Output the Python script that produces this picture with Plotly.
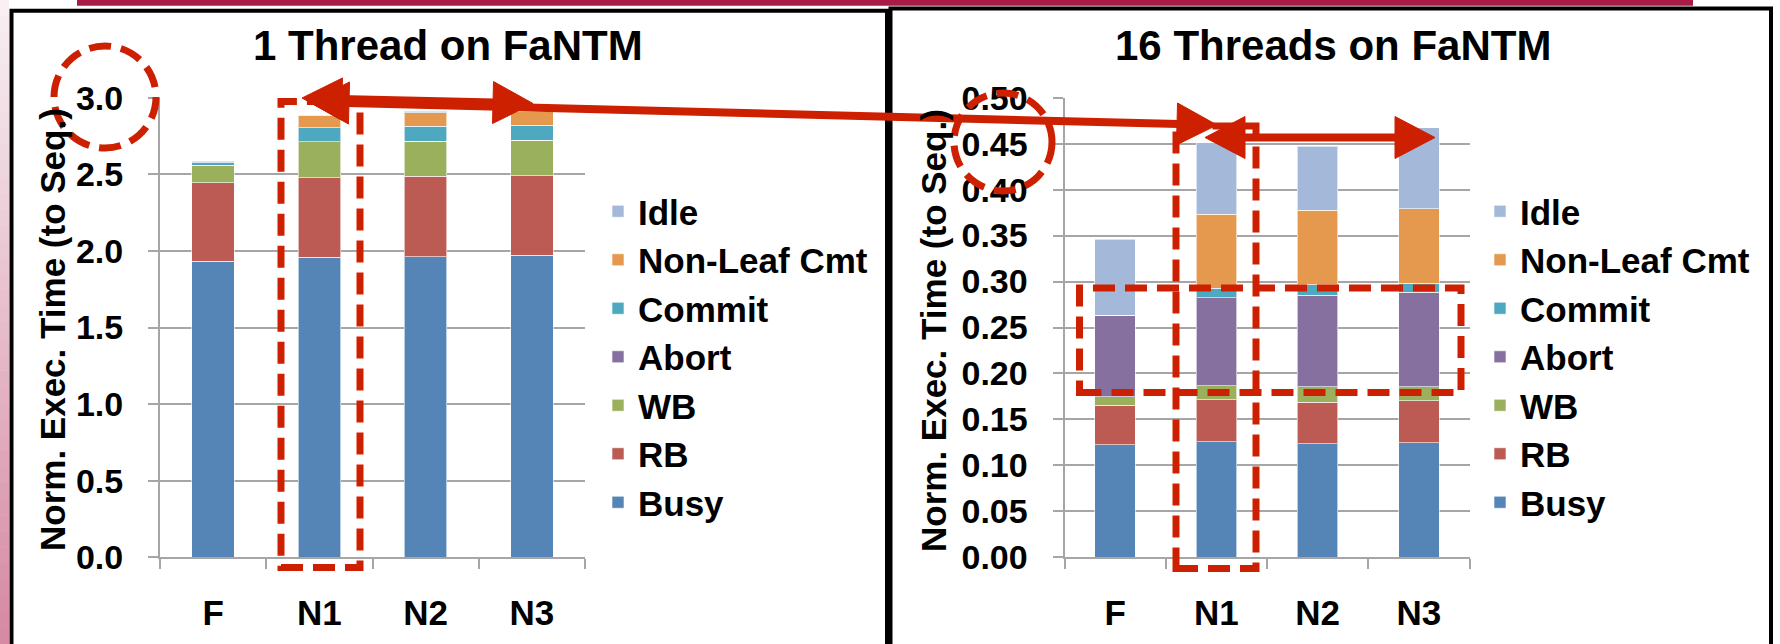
import math
import plotly.graph_objects as go

W, H = 1780, 644
FONT = "Liberation Sans"

categories = ["F", "N1", "N2", "N3"]
series_names = ["Busy", "RB", "WB", "Abort", "Commit", "Non-Leaf Cmt", "Idle"]
colors = ["#5485B6", "#BB5B54", "#9BB05C", "#8670A0", "#4DA8C0", "#E4994F", "#A4B9D9"]

# 1 thread on FaNTM
t1_busy = [1.934, 1.958, 1.963, 1.971]
t1_rb = [0.511, 0.521, 0.525, 0.518]
t1_wb = [0.115, 0.232, 0.228, 0.234]
t1_abort = [0.0, 0.0, 0.0, 0.0]
t1_commit = [0.015, 0.093, 0.098, 0.098]
t1_nonleaf = [0.0, 0.081, 0.089, 0.089]
t1_idle = [0.010, 0.005, 0.007, 0.006]

# 16 threads on FaNTM
t16_busy = [0.1222, 0.1256, 0.1237, 0.1246]
t16_rb = [0.0434, 0.0458, 0.0451, 0.0455]
t16_wb = [0.0090, 0.0153, 0.0167, 0.0157]
t16_abort = [0.0888, 0.0955, 0.0998, 0.1027]
t16_commit = [0.0, 0.0103, 0.0112, 0.0097]
t16_nonleaf = [0.0, 0.0809, 0.0809, 0.0811]
t16_idle = [0.0824, 0.0778, 0.0696, 0.0878]

y1_ticks = [0.0, 0.5, 1.0, 1.5, 2.0, 2.5, 3.0]
y16_ticks = [0.00, 0.05, 0.10, 0.15, 0.20, 0.25, 0.30, 0.35, 0.40, 0.45, 0.50]

t1_data = [t1_busy, t1_rb, t1_wb, t1_abort, t1_commit, t1_nonleaf, t1_idle]
t16_data = [t16_busy, t16_rb, t16_wb, t16_abort, t16_commit, t16_nonleaf, t16_idle]


def px(x):
    return x / W


def py(y):
    return 1 - y / H


fig = go.Figure()
for name, col, vals in zip(series_names, colors, t1_data):
    fig.add_trace(go.Bar(x=categories, y=vals, name=name, marker_color=col,
                         marker_line=dict(color="rgba(255,255,255,0.6)", width=1),
                         width=0.4, xaxis="x", yaxis="y", legend="legend"))
for name, col, vals in zip(series_names, colors, t16_data):
    fig.add_trace(go.Bar(x=categories, y=vals, name=name, marker_color=col,
                         marker_line=dict(color="rgba(255,255,255,0.6)", width=1),
                         width=0.4, xaxis="x2", yaxis="y2", legend="legend2"))

GRID = "#A6A6A6"
tickfont = dict(family=FONT, size=34, color="black", weight="bold")
xcommon = dict(type="category", showline=True, linecolor=GRID, linewidth=2,
               ticks="outside", tickson="boundaries", ticklen=10, tickcolor=GRID,
               tickwidth=2, showgrid=False, automargin=False,
               tickfont=dict(family=FONT, size=35, color="black", weight="bold"),
               ticklabelstandoff=24, fixedrange=True)
ycommon = dict(showline=True, linecolor=GRID, linewidth=2, ticks="outside", ticklen=10,
               tickcolor=GRID, tickwidth=2, showgrid=True, gridcolor=GRID, gridwidth=2,
               zeroline=False, tickfont=tickfont, ticklabelstandoff=18, automargin=False,
               fixedrange=True)

ydom = [py(557.3), py(97.7)]
fig.update_layout(
    width=W, height=H, autosize=False,
    margin=dict(l=0, r=0, t=0, b=0, pad=0, autoexpand=False),
    paper_bgcolor="white", plot_bgcolor="white",
    barmode="stack", showlegend=True,
    xaxis=dict(domain=[px(160), px(585)], anchor="y", **xcommon),
    yaxis=dict(domain=ydom, anchor="x", range=[0, 3], tickvals=y1_ticks, tickformat=".1f", **ycommon),
    xaxis2=dict(domain=[px(1064.5), px(1469.5)], anchor="y2", **xcommon),
    yaxis2=dict(domain=ydom, anchor="x2", range=[0, 0.5], tickvals=y16_ticks, tickformat=".2f", **ycommon),
    legend=dict(x=px(598), y=py(182), xanchor="left", yanchor="top", traceorder="reversed",
                font=dict(family=FONT, size=35, color="black", weight="bold"),
                bgcolor="rgba(0,0,0,0)", borderwidth=0, tracegroupgap=0),
    legend2=dict(x=px(1480), y=py(182), xanchor="left", yanchor="top", traceorder="reversed",
                 font=dict(family=FONT, size=35, color="black", weight="bold"),
                 bgcolor="rgba(0,0,0,0)", borderwidth=0, tracegroupgap=0),
)

# Titles and axis titles
ann = []
ann.append(dict(text="1 Thread on FaNTM", x=px(448), y=py(46), xref="paper", yref="paper",
                xanchor="center", yanchor="middle", showarrow=False,
                font=dict(family=FONT, size=42, color="black", weight="bold")))
ann.append(dict(text="16 Threads on FaNTM", x=px(1333), y=py(46), xref="paper", yref="paper",
                xanchor="center", yanchor="middle", showarrow=False,
                font=dict(family=FONT, size=42, color="black", weight="bold")))
for xx in (52, 933):
    ann.append(dict(text="Norm. Exec. Time (to Seq.)", x=px(xx), y=py(330), xref="paper", yref="paper",
                    xanchor="center", yanchor="middle", showarrow=False, textangle=-90,
                    font=dict(family=FONT, size=35, color="black", weight="bold")))
fig.update_layout(annotations=ann)

shapes = []
# pink gradient strip on the far left
n = 40
for i in range(n):
    t = i / (n - 1)
    r = int(248 + (214 - 248) * t)
    g = int(240 + (138 - 240) * t)
    b = int(243 + (164 - 243) * t)
    shapes.append(dict(type="rect", xref="paper", yref="paper", x0=px(0), x1=px(9),
                       y0=py(H * i / n), y1=py(H * (i + 1) / n + 0.5),
                       fillcolor=f"rgb({r},{g},{b})", line=dict(width=0), layer="below"))
# crimson top band
shapes.append(dict(type="rect", xref="paper", yref="paper", x0=px(77), x1=px(1693), y0=py(0), y1=py(5.7),
                   fillcolor="#A91B46", line=dict(width=0)))
# panel borders
shapes.append(dict(type="rect", xref="paper", yref="paper", x0=px(11.5), x1=px(887), y0=py(10.7), y1=py(700),
                   line=dict(color="black", width=4)))
shapes.append(dict(type="rect", xref="paper", yref="paper", x0=px(890.5), x1=px(1771), y0=py(8.5), y1=py(700),
                   line=dict(color="black", width=4)))

RED = "#CD2000"
DASH = "22px,10px"
# dashed highlight circles
for cx, cy, r in ((105, 97, 51), (1003, 142, 49)):
    shapes.append(dict(type="circle", xref="paper", yref="paper", x0=px(cx - r), x1=px(cx + r),
                       y0=py(cy + r), y1=py(cy - r), line=dict(color=RED, width=7, dash=DASH)))
# dashed highlight rectangles
for x0, y0, x1, y1 in ((281, 101.6, 360, 567.5), (1176, 126, 1256, 568.5), (1079.5, 288, 1461, 392.5)):
    shapes.append(dict(type="rect", xref="paper", yref="paper", x0=px(x0), x1=px(x1),
                       y0=py(y1), y1=py(y0), line=dict(color=RED, width=7, dash=DASH)))


def head(tip, other, L=40, Wh=21):
    dx, dy = other[0] - tip[0], other[1] - tip[1]
    d = math.hypot(dx, dy)
    ux, uy = dx / d, dy / d
    bx, by = tip[0] + ux * L, tip[1] + uy * L
    nx, ny = -uy, ux
    p1 = (bx + nx * Wh, by + ny * Wh)
    p2 = (bx - nx * Wh, by - ny * Wh)
    path = (f"M {px(tip[0])} {py(tip[1])} L {px(p1[0])} {py(p1[1])} "
            f"L {px(p2[0])} {py(p2[1])} Z")
    return dict(type="path", xref="paper", yref="paper", path=path, fillcolor=RED,
                line=dict(color=RED, width=1)), (bx, by)


def double_arrow(a, b, lw=8):
    h1, b1 = head(a, b)
    h2, b2 = head(b, a)
    shapes.append(dict(type="line", xref="paper", yref="paper", x0=px(b1[0] - 2), y0=py(b1[1]),
                       x1=px(b2[0] + 2), y1=py(b2[1]), line=dict(color=RED, width=lw)))
    shapes.append(h1)
    shapes.append(h2)


double_arrow((302, 98), (533, 103.5))
double_arrow((309, 102), (1217, 125))
double_arrow((1205, 137.5), (1435, 137.5))

fig.update_layout(shapes=shapes)
fig.write_html("out.html", config={"responsive": False, "displayModeBar": False},
               post_script="document.body.style.margin='0';document.body.style.overflow='hidden';")
